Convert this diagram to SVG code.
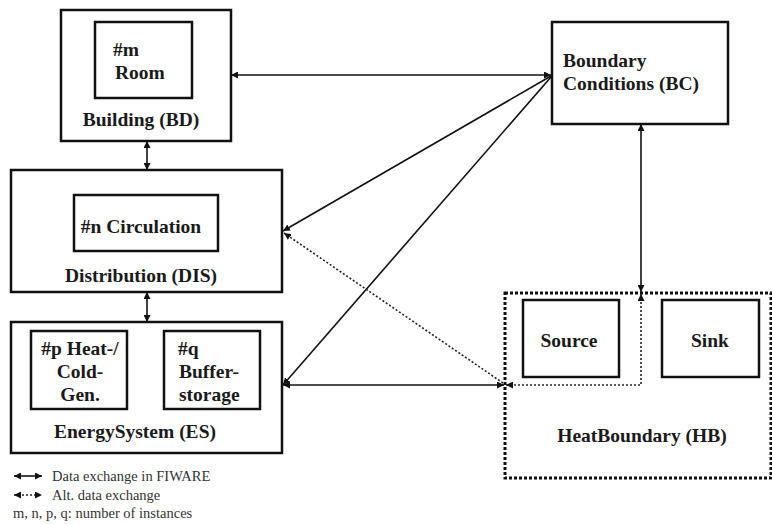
<svg xmlns="http://www.w3.org/2000/svg" width="772" height="524" viewBox="0 0 772 524">
<defs>
<style>
.box{fill:#fff;stroke:#111;stroke-width:2.5}
.inner{fill:none;stroke:#111;stroke-width:2.5}
.t{font-family:"Liberation Serif","Times New Roman",serif;font-weight:bold;font-size:19.5px;fill:#1a1a1a}
.c{text-anchor:middle}
.lg{font-family:"Liberation Serif","Times New Roman",serif;font-size:14.5px;fill:#333}
.con{fill:none;stroke:#111;stroke-width:1.6}
.dot{fill:none;stroke:#222;stroke-width:1.6;stroke-dasharray:2 2}
.hb{fill:none;stroke:#111;stroke-width:3;stroke-dasharray:3 2}
</style>
<marker id="a" viewBox="0 0 10 10" refX="10" refY="5" markerWidth="7" markerHeight="7" orient="auto-start-reverse" markerUnits="userSpaceOnUse">
<path d="M0,0 L10,5 L0,10 z" fill="#111"/>
</marker>
</defs>
<g id="building">
<rect class="box" x="61" y="10" width="170" height="131"/>
<rect class="inner" x="95" y="22" width="97" height="76"/>
<text class="t" x="113" y="56">#m</text>
<text class="t" x="115" y="79">Room</text>
<text class="t c" x="141" y="126">Building (BD)</text>
</g>
<g id="distribution">
<rect class="box" x="11" y="170" width="271" height="122"/>
<rect class="inner" x="74" y="195" width="144" height="56"/>
<text class="t c" x="141" y="233">#n Circulation</text>
<text class="t c" x="141" y="282">Distribution (DIS)</text>
</g>
<g id="energysystem">
<rect class="box" x="11" y="322" width="271" height="131"/>
<rect class="inner" x="31" y="331" width="96" height="78"/>
<rect class="inner" x="164" y="331" width="96" height="78"/>
<text class="t c" x="80" y="355">#p Heat-/</text>
<text class="t c" x="80" y="378">Cold-</text>
<text class="t c" x="80" y="401">Gen.</text>
<text class="t" x="178" y="355">#q</text>
<text class="t" x="179" y="378">Buffer-</text>
<text class="t" x="179" y="401">storage</text>
<text class="t c" x="135" y="438">EnergySystem (ES)</text>
</g>
<g id="boundaryconditions">
<rect class="box" x="552" y="22" width="176" height="102"/>
<text class="t" x="563" y="67">Boundary</text>
<text class="t" x="563" y="90">Conditions (BC)</text>
</g>
<g id="heatboundary">
<rect class="hb" x="505" y="293" width="266" height="185"/>
<rect class="inner" x="523" y="300" width="96" height="77"/>
<rect class="inner" x="662" y="300" width="97" height="77"/>
<text class="t c" x="569" y="347">Source</text>
<text class="t c" x="710" y="347">Sink</text>
<text class="t c" x="642" y="442">HeatBoundary (HB)</text>
</g>
<g id="connectors">
<line class="con" x1="147" y1="141" x2="147" y2="170" marker-start="url(#a)" marker-end="url(#a)"/>
<line class="con" x1="147" y1="292" x2="147" y2="322" marker-start="url(#a)" marker-end="url(#a)"/>
<line class="con" x1="231" y1="75" x2="551" y2="75" marker-start="url(#a)" marker-end="url(#a)"/>
<line class="con" x1="551" y1="76" x2="283" y2="231" marker-end="url(#a)"/>
<line class="con" x1="551" y1="77" x2="283" y2="385" marker-end="url(#a)"/>
<line class="con" x1="283" y1="385" x2="504" y2="385" marker-start="url(#a)" marker-end="url(#a)"/>
<line class="dot" x1="503" y1="383" x2="284" y2="233" marker-end="url(#a)"/>
<polyline class="dot" points="506,385 641,385 641,294" marker-start="url(#a)" marker-end="url(#a)"/>
<line class="con" x1="641" y1="124" x2="641" y2="292" marker-start="url(#a)" marker-end="url(#a)"/>
</g>
<g id="legend">
<line class="con" x1="14" y1="476" x2="42" y2="476" marker-start="url(#a)" marker-end="url(#a)"/>
<line class="dot" x1="14" y1="495" x2="42" y2="495" marker-start="url(#a)" marker-end="url(#a)"/>
<text class="lg" x="52" y="481">Data exchange in FIWARE</text>
<text class="lg" x="52" y="500">Alt. data exchange</text>
<text class="lg" x="13" y="518">m, n, p, q: number of instances</text>
</g>
</svg>
